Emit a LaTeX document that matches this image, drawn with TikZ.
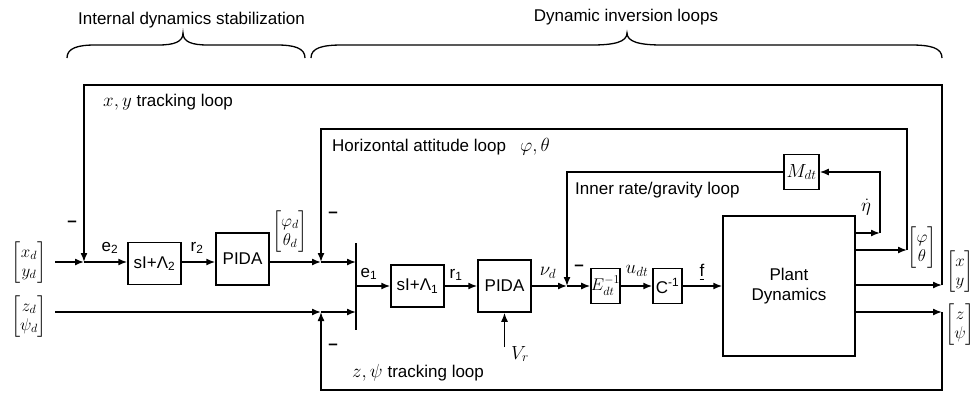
\RequirePackage{fix-cm}
\documentclass[tikz,border=0pt]{standalone}
\usepackage{amsmath}
\usepackage{fontspec}
\setmainfont{Liberation Sans}
\usetikzlibrary{arrows.meta}
\begin{document}
\begin{tikzpicture}[x=1pt,y=-1pt,
  every node/.style={font=\fontsize{17}{20}\selectfont},
  blk/.style={draw, line width=1.5pt, inner sep=0pt, align=center},
  ln/.style={line width=1.5pt},
  arr/.style={line width=1.5pt, -{Latex[length=9pt,width=7pt]}},
  brc/.style={line width=1.3pt},
  lbl/.style={inner sep=0pt},
  mlbl/.style={inner sep=0pt, font=\fontsize{19}{22}\selectfont},
  vec/.style={inner sep=0pt, font=\fontsize{17}{19}\selectfont},
  minus/.style={inner sep=0pt, font=\fontsize{17}{20}\selectfont\bfseries}]
\useasboundingbox (0,0) rectangle (974,394);

% headings and braces
\node[lbl] (t1) at (191.5,20) {Internal dynamics stabilization};
\node[lbl] (t2) at (626,17) {Dynamic inversion loops};
\draw[brc] (67,58) .. controls (67,48) and (78,45) .. (95,45) -- (158,45)
  .. controls (174,45) and (183,42) .. (183,33)
  .. controls (183,42) and (192,45) .. (208,45) -- (277,45)
  .. controls (294,45) and (305,48) .. (305,58);
\draw[brc] (311,58) .. controls (311,48) and (322,45) .. (342,45) -- (592,45)
  .. controls (614,45) and (627,42) .. (627,33)
  .. controls (627,42) and (640,45) .. (662,45) -- (911,45)
  .. controls (931,45) and (942,48) .. (942,58);

% blocks
\node[blk, minimum width=53pt, minimum height=42pt] (sl2) at (154.5,263.5) {sI+Λ\textsubscript{2}};
\node[blk, minimum width=53pt, minimum height=52pt] (pida1) at (242.5,259) {PIDA};
\node[blk, minimum width=53pt, minimum height=42pt] (sl1) at (417.5,286) {sI+Λ\textsubscript{1}};
\node[blk, minimum width=53pt, minimum height=52pt] (pida2) at (504.5,286) {PIDA};
\node[blk, minimum width=29pt, minimum height=35pt, font=\fontsize{17}{20}\selectfont] (E) at (605.5,286) {$E_{dt}^{-1}$};
\node[blk, minimum width=29pt, minimum height=35pt] (C) at (667.5,286) {C\textsuperscript{-1}};
\node[blk, minimum width=132pt, minimum height=140pt] (plant) at (789,286) {Plant\\Dynamics};
\node[blk, minimum width=35pt, minimum height=35pt, font=\fontsize{19}{22}\selectfont] (M) at (801.5,172) {$M_{dt}$};

% signal vectors
\node[vec] (xd) at (29,263) {$\begin{bmatrix}x_d\\ y_d\end{bmatrix}$};
\node[vec] (zd) at (29,317) {$\begin{bmatrix}z_d\\ \psi_d\end{bmatrix}$};
\node[vec] (phd) at (290,232) {$\begin{bmatrix}\varphi_d\\ \theta_d\end{bmatrix}$};
\node[vec] (ph) at (922,248) {$\begin{bmatrix}\varphi\\ \theta\end{bmatrix}$};
\node[vec] (xy) at (960,272) {$\begin{bmatrix}x\\ y\end{bmatrix}$};
\node[vec] (zp) at (960,325) {$\begin{bmatrix}z\\ \psi\end{bmatrix}$};

% coordinates
\coordinate (xa) at (55,262);
\coordinate (za) at (55,312);
\coordinate (j1) at (84,262);
\coordinate (j2) at (321,262);
\coordinate (j3) at (321,312);
\coordinate (bart) at (356,243);
\coordinate (barb) at (356,330);
\coordinate (row2) at (356,286);
\coordinate (j4) at (567,286);
\coordinate (vr) at (504.5,347);
\coordinate (oeta) at (880,233);
\coordinate (oph) at (907,250);
\coordinate (oxy) at (942,285);
\coordinate (ozp) at (942,312);

% forward path
\draw[arr] (xa) -- (j1);
\draw[arr] (j1) -- (j1 -| sl2.west);
\draw[arr] (sl2.east |- j1) -- (pida1.west |- j1);
\draw[arr] (pida1.east |- j1) -- (j2);
\draw[arr] (j2) -- (bart |- j2);
\draw[arr] (za) -- (j3);
\draw[arr] (j3) -- (bart |- j3);
\draw[ln] (bart) -- (barb);
\draw[arr] (row2) -- (sl1.west);
\draw[arr] (sl1.east) -- (pida2.west);
\draw[arr] (pida2.east) -- (j4);
\draw[arr] (j4) -- (E.west);
\draw[arr] (E.east) -- (C.west);
\draw[arr] (C.east) -- (plant.west |- C.east);
\draw[arr] (vr) -- (pida2.south);

% plant outputs
\draw[arr] (plant.east |- oeta) -- (oeta);
\draw[arr] (plant.east |- oph) -- (oph);
\draw[arr] (plant.east |- oxy) -- (oxy);
\draw[arr] (plant.east |- ozp) -- (ozp);

% feedback loops
\draw[arr] (oeta) -- (oeta |- M.east) -- (M.east);
\draw[arr] (M.west) -| (j4);
\draw[arr] (oph) -- (oph |- 0,129) -| (j2);
\draw[arr] (oxy) -- (oxy |- 0,85) -| (j1);
\draw[arr] (ozp) -- (ozp |- 0,390) -| (j3);

% labels
\node[lbl] (le2) at (110,248) {e\textsubscript{2}};
\node[lbl] (lr2) at (197,248) {r\textsubscript{2}};
\node[lbl] (le1) at (369,274) {e\textsubscript{1}};
\node[lbl] (lr1) at (456,275) {r\textsubscript{1}};
\node[mlbl] (lnu) at (548,273) {$\nu_d$};
\node[mlbl] (lu) at (637,271) {$u_{dt}$};
\node[lbl] (lf) at (702,272) {\underline{f}};
\node[mlbl] (lvr) at (520,354) {$V_r$};
\node[mlbl] (leta) at (866,207) {$\dot\eta$};
\node[minus] (m1) at (72,224) {–};
\node[minus] (m2) at (333,215) {–};
\node[minus] (m3) at (333,347) {–};
\node[minus] (m4) at (579,268) {–};
\node[lbl, anchor=west] (lxy) at (103,102) {\fontsize{19}{22}\selectfont$x,y$\fontsize{17}{20}\selectfont\ tracking loop};
\node[lbl, anchor=west] (lha) at (332,147) {Horizontal attitude loop\hspace{14pt}\fontsize{19}{22}\selectfont$\varphi,\theta$};
\node[lbl, anchor=west] (lin) at (575,190) {Inner rate/gravity loop};
\node[lbl, anchor=west] (lzp) at (352,373) {\fontsize{19}{22}\selectfont$z,\psi$\fontsize{17}{20}\selectfont\ tracking loop};
\end{tikzpicture}
\end{document}
